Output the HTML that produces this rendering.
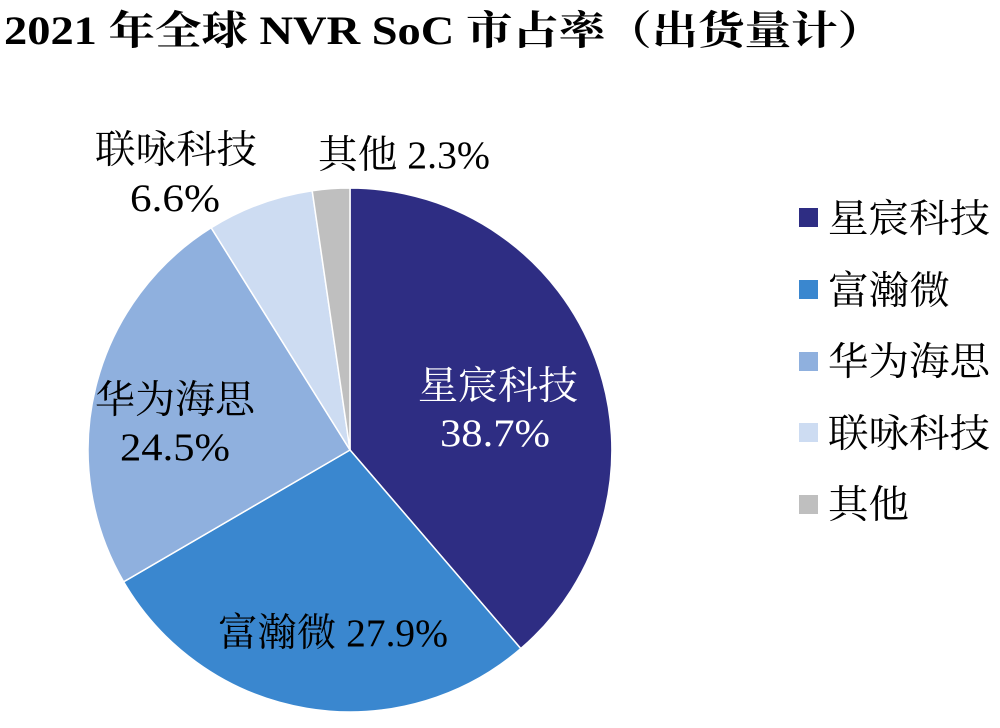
<!DOCTYPE html>
<html><head><meta charset="utf-8"><style>
body{margin:0;background:#fff;width:1000px;height:723px;overflow:hidden}
svg text{font-family:"Liberation Serif","Noto Serif CJK SC",serif}
</style></head><body>
<svg width="1000" height="723" viewBox="0 0 1000 723">
<text x="4" y="44" font-size="40" font-weight="bold" fill="#000" textLength="880" lengthAdjust="spacingAndGlyphs">2021 年全球 NVR SoC 市占率（出货量计）</text>
<g stroke="#fff" stroke-width="1.5">
<path d="M350,450 L350,188 A262,262 0 0 1 520.8,648.6 Z" fill="#2e2d83"/>
<path d="M350,450 L520.8,648.6 A262,262 0 0 1 123.6,581.8 Z" fill="#3a87cf"/>
<path d="M350,450 L123.6,581.8 A262,262 0 0 1 211.2,227.8 Z" fill="#8fb0de"/>
<path d="M350,450 L211.2,227.8 A262,262 0 0 1 312.2,190.7 Z" fill="#cddcf2"/>
<path d="M350,450 L312.2,190.7 A262,262 0 0 1 350,188 Z" fill="#bfbfbf"/>
</g>
<g font-size="39">
<text x="418" y="399" fill="#fff" textLength="160" lengthAdjust="spacingAndGlyphs">星宸科技</text>
<text x="440" y="446" fill="#fff" textLength="110" lengthAdjust="spacingAndGlyphs">38.7%</text>
<text x="218" y="646" fill="#000" textLength="230" lengthAdjust="spacingAndGlyphs">富瀚微 27.9%</text>
<text x="95" y="413" fill="#000" textLength="160" lengthAdjust="spacingAndGlyphs">华为海思</text>
<text x="120" y="460" fill="#000" textLength="110" lengthAdjust="spacingAndGlyphs">24.5%</text>
<text x="95" y="163" fill="#000" textLength="162" lengthAdjust="spacingAndGlyphs">联咏科技</text>
<text x="130" y="211" fill="#000" textLength="90" lengthAdjust="spacingAndGlyphs">6.6%</text>
<text x="318" y="168" fill="#000" textLength="172" lengthAdjust="spacingAndGlyphs">其他 2.3%</text>
</g>
<g font-size="39" fill="#000">
<rect x="799" y="208" width="19" height="19" fill="#2e2d83"/><text x="828" y="232" textLength="162" lengthAdjust="spacingAndGlyphs">星宸科技</text>
<rect x="799" y="280" width="19" height="19" fill="#3a87cf"/><text x="828" y="304" textLength="122" lengthAdjust="spacingAndGlyphs">富瀚微</text>
<rect x="799" y="352" width="19" height="19" fill="#8fb0de"/><text x="828" y="375" textLength="162" lengthAdjust="spacingAndGlyphs">华为海思</text>
<rect x="799" y="423" width="19" height="19" fill="#cddcf2"/><text x="828" y="447" textLength="162" lengthAdjust="spacingAndGlyphs">联咏科技</text>
<rect x="799" y="495" width="19" height="19" fill="#bfbfbf"/><text x="828" y="518" textLength="81" lengthAdjust="spacingAndGlyphs">其他</text>
</g>
</svg>
</body></html>
